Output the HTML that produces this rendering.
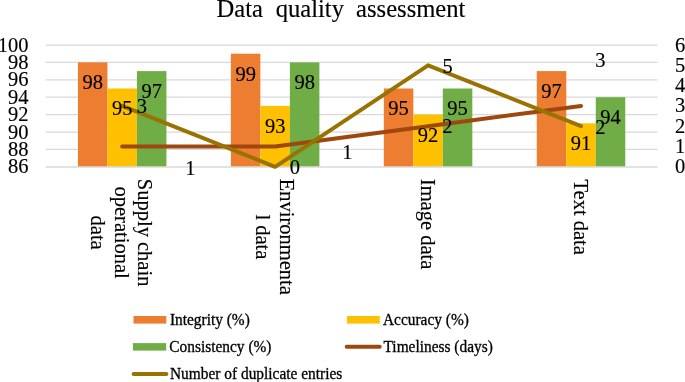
<!DOCTYPE html><html><head><meta charset="utf-8"><style>html,body{margin:0;padding:0;background:#fff;}svg{display:block;will-change:transform;}text{font-family:"Liberation Serif",serif;fill:#000;stroke:#000;stroke-width:0.15px;} text.s{stroke-width:0.3px;}</style></head><body>
<svg width="685" height="382" viewBox="0 0 685 382">
<text font-size="24.6" y="17.3"><tspan x="216.6">Data</tspan><tspan x="275.7">quality</tspan><tspan x="356.1">assessment</tspan></text>
<line x1="45.7" x2="657.5" y1="45.00" y2="45.00" stroke="#D9D9D9" stroke-width="1.25"/>
<line x1="45.7" x2="657.5" y1="62.40" y2="62.40" stroke="#D9D9D9" stroke-width="1.25"/>
<line x1="45.7" x2="657.5" y1="79.80" y2="79.80" stroke="#D9D9D9" stroke-width="1.25"/>
<line x1="45.7" x2="657.5" y1="97.20" y2="97.20" stroke="#D9D9D9" stroke-width="1.25"/>
<line x1="45.7" x2="657.5" y1="114.60" y2="114.60" stroke="#D9D9D9" stroke-width="1.25"/>
<line x1="45.7" x2="657.5" y1="132.00" y2="132.00" stroke="#D9D9D9" stroke-width="1.25"/>
<line x1="45.7" x2="657.5" y1="149.40" y2="149.40" stroke="#D9D9D9" stroke-width="1.25"/>
<rect x="77.92" y="62.40" width="29.5" height="104.40" fill="#ED7D31"/>
<rect x="107.42" y="88.50" width="29.5" height="78.30" fill="#FFC000"/>
<rect x="136.93" y="71.10" width="29.5" height="95.70" fill="#70AD47"/>
<rect x="230.88" y="53.70" width="29.5" height="113.10" fill="#ED7D31"/>
<rect x="260.38" y="105.90" width="29.5" height="60.90" fill="#FFC000"/>
<rect x="289.88" y="62.40" width="29.5" height="104.40" fill="#70AD47"/>
<rect x="383.82" y="88.50" width="29.5" height="78.30" fill="#ED7D31"/>
<rect x="413.32" y="114.60" width="29.5" height="52.20" fill="#FFC000"/>
<rect x="442.82" y="88.50" width="29.5" height="78.30" fill="#70AD47"/>
<rect x="536.77" y="71.10" width="29.5" height="95.70" fill="#ED7D31"/>
<rect x="566.27" y="123.30" width="29.5" height="43.50" fill="#FFC000"/>
<rect x="595.77" y="97.20" width="29.5" height="69.60" fill="#70AD47"/>
<line x1="45.7" x2="657.5" y1="167.0" y2="167.0" stroke="#D9D9D9" stroke-width="1.6"/>
<polyline points="122.17,146.50 275.12,146.50 428.07,126.20 581.02,105.90" fill="none" stroke="#9E480E" stroke-width="4.0" stroke-linejoin="round" stroke-linecap="round"/>
<polyline points="122.17,105.90 275.12,166.80 428.07,65.30 581.02,126.20" fill="none" stroke="#997300" stroke-width="4.0" stroke-linejoin="round" stroke-linecap="round"/>
<text font-size="20.5" transform="translate(92.67,89.30) scale(1,1.06)" text-anchor="middle">98</text>
<text font-size="20.5" transform="translate(122.17,115.40) scale(1,1.06)" text-anchor="middle">95</text>
<text font-size="20.5" transform="translate(151.68,98.00) scale(1,1.06)" text-anchor="middle">97</text>
<text font-size="20.5" transform="translate(245.62,80.60) scale(1,1.06)" text-anchor="middle">99</text>
<text font-size="20.5" transform="translate(275.12,132.80) scale(1,1.06)" text-anchor="middle">93</text>
<text font-size="20.5" transform="translate(304.62,89.30) scale(1,1.06)" text-anchor="middle">98</text>
<text font-size="20.5" transform="translate(398.57,115.40) scale(1,1.06)" text-anchor="middle">95</text>
<text font-size="20.5" transform="translate(428.07,141.50) scale(1,1.06)" text-anchor="middle">92</text>
<text font-size="20.5" transform="translate(457.57,115.40) scale(1,1.06)" text-anchor="middle">95</text>
<text font-size="20.5" transform="translate(551.52,98.00) scale(1,1.06)" text-anchor="middle">97</text>
<text font-size="20.5" transform="translate(581.02,150.20) scale(1,1.06)" text-anchor="middle">91</text>
<text font-size="20.5" transform="translate(610.52,124.10) scale(1,1.06)" text-anchor="middle">94</text>
<text font-size="20.5" transform="translate(141.80,113.00) scale(1,1.06)" text-anchor="middle">3</text>
<text font-size="20.5" transform="translate(294.90,174.20) scale(1,1.06)" text-anchor="middle">0</text>
<text font-size="20.5" transform="translate(447.60,72.60) scale(1,1.06)" text-anchor="middle">5</text>
<text font-size="20.5" transform="translate(600.40,133.50) scale(1,1.06)" text-anchor="middle">2</text>
<text font-size="20.5" transform="translate(190.50,174.80) scale(1,1.06)" text-anchor="middle">1</text>
<text font-size="20.5" transform="translate(347.30,158.50) scale(1,1.06)" text-anchor="middle">1</text>
<text font-size="20.5" transform="translate(447.50,133.20) scale(1,1.06)" text-anchor="middle">2</text>
<text font-size="20.5" transform="translate(600.30,67.00) scale(1,1.06)" text-anchor="middle">3</text>
<text font-size="20.5" transform="translate(28.40,51.50) scale(1,1.06)" text-anchor="end">100</text>
<text font-size="20.5" transform="translate(28.40,68.90) scale(1,1.06)" text-anchor="end">98</text>
<text font-size="20.5" transform="translate(28.40,86.30) scale(1,1.06)" text-anchor="end">96</text>
<text font-size="20.5" transform="translate(28.40,103.70) scale(1,1.06)" text-anchor="end">94</text>
<text font-size="20.5" transform="translate(28.40,121.10) scale(1,1.06)" text-anchor="end">92</text>
<text font-size="20.5" transform="translate(28.40,138.50) scale(1,1.06)" text-anchor="end">90</text>
<text font-size="20.5" transform="translate(28.40,155.90) scale(1,1.06)" text-anchor="end">88</text>
<text font-size="20.5" transform="translate(28.40,173.30) scale(1,1.06)" text-anchor="end">86</text>
<text font-size="20.5" transform="translate(675.00,51.50) scale(1,1.06)">6</text>
<text font-size="20.5" transform="translate(675.00,71.80) scale(1,1.06)">5</text>
<text font-size="20.5" transform="translate(675.00,92.10) scale(1,1.06)">4</text>
<text font-size="20.5" transform="translate(675.00,112.40) scale(1,1.06)">3</text>
<text font-size="20.5" transform="translate(675.00,132.70) scale(1,1.06)">2</text>
<text font-size="20.5" transform="translate(675.00,153.00) scale(1,1.06)">1</text>
<text font-size="20.5" transform="translate(675.00,173.30) scale(1,1.06)">0</text>
<text font-size="20.5" transform="translate(138.31,232.61) rotate(90) scale(1,1.06)" text-anchor="middle">Supply chain</text>
<text font-size="20.5" transform="translate(114.81,232.61) rotate(90) scale(1,1.06)" text-anchor="middle">operational</text>
<text font-size="20.5" transform="translate(91.31,232.61) rotate(90) scale(1,1.06)" text-anchor="middle">data</text>
<text font-size="20.5" transform="translate(279.51,236.87) rotate(90) scale(1,1.06)" text-anchor="middle">Environmenta</text>
<text font-size="20.5" transform="translate(256.01,236.87) rotate(90) scale(1,1.06)" text-anchor="middle">l data</text>
<text font-size="20.5" transform="translate(420.71,224.05) rotate(90) scale(1,1.06)" text-anchor="middle">Image data</text>
<text font-size="20.5" transform="translate(573.66,217.22) rotate(90) scale(1,1.06)" text-anchor="middle">Text data</text>
<rect x="133.5" y="316.0" width="32.8" height="7.6" fill="#ED7D31"/>
<text font-size="15.4" transform="translate(169.90,324.60) scale(1,1.06)" class="s">Integrity (%)</text>
<rect x="347.0" y="316.0" width="32.8" height="7.6" fill="#FFC000"/>
<text font-size="15.4" transform="translate(383.00,324.60) scale(1,1.06)" class="s">Accuracy (%)</text>
<rect x="132.9" y="343.1" width="33.3" height="7.5" fill="#70AD47"/>
<text font-size="15.4" transform="translate(169.30,351.80) scale(1,1.06)" class="s">Consistency (%)</text>
<line x1="346.7" x2="379.7" y1="346.85" y2="346.85" stroke="#9E480E" stroke-width="4.0" stroke-linecap="round"/>
<text font-size="15.4" transform="translate(383.50,351.80) scale(1,1.06)" class="s">Timeliness (days)</text>
<line x1="133.6" x2="166.4" y1="374.05" y2="374.05" stroke="#997300" stroke-width="4.0" stroke-linecap="round"/>
<text font-size="15.4" transform="translate(170.00,379.00) scale(1,1.06)" class="s">Number of duplicate entries</text>
</svg></body></html>
